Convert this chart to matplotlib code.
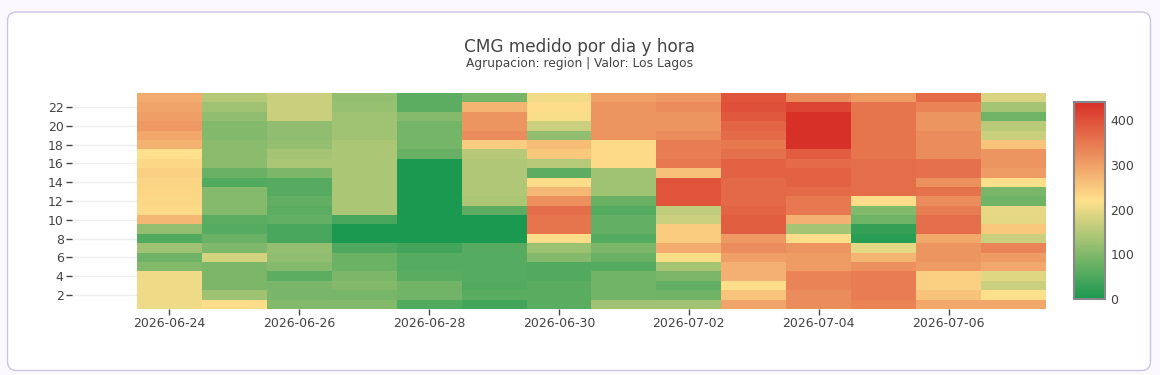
import matplotlib
matplotlib.use("Agg")
import matplotlib.pyplot as plt
import matplotlib.dates as mdates
from matplotlib.colors import LinearSegmentedColormap
from matplotlib.patches import FancyBboxPatch
import numpy as np
import pandas as pd

dates = ["2026-06-24", "2026-06-25", "2026-06-26", "2026-06-27", "2026-06-28",
         "2026-06-29", "2026-06-30", "2026-07-01", "2026-07-02", "2026-07-03",
         "2026-07-04", "2026-07-05", "2026-07-06", "2026-07-07"]
hours = list(range(1, 24))

# values per day, hour 1 .. 23
d0624 = [205,205,205,205,100,82,130,55,118,272,228,232,233,235,240,232,222,278,290,310,303,295,285]
d0625 = [225,130,95,95,95,180,98,78,58,65,105,105,105,55,78,110,110,110,100,100,115,130,150]
d0626 = [100,92,92,65,105,115,120,45,45,72,65,70,60,60,95,140,135,120,115,115,170,170,170]
d0627 = [100,90,100,95,80,80,50,3,3,45,140,140,140,140,140,140,140,140,130,130,130,122,120]
d0628 = [55,85,85,62,58,58,40,2,2,2,2,2,2,2,2,2,75,88,88,88,105,65,65]
d0629 = [40,62,55,57,57,57,60,2,2,2,65,140,145,145,145,145,150,245,325,315,315,275,90]
d0630 = [62,62,62,55,55,105,125,225,355,355,365,320,270,225,65,150,250,265,115,170,215,225,210]
d0701 = [130,85,85,85,58,75,95,58,72,72,58,75,130,130,130,228,228,228,315,315,315,315,300]
d0702 = [130,82,70,95,135,215,285,245,245,172,160,395,395,395,260,350,345,345,325,315,315,325,310]
d0703 = [295,255,225,280,280,300,325,310,383,383,375,370,370,370,378,378,360,350,368,375,390,400,395]
d0704 = [325,325,335,335,305,305,315,225,135,280,350,350,368,378,378,368,385,440,440,440,440,415,325]
d0705 = [335,345,345,345,320,275,195,15,25,82,100,225,362,362,362,362,355,355,355,355,355,355,305]
d0706 = [290,255,240,240,305,315,315,290,365,365,345,325,358,320,360,360,325,325,325,315,315,335,368]
d0707 = [292,220,172,192,290,305,335,172,250,195,198,82,92,218,305,315,315,255,170,155,82,135,185]

columns = [d0624, d0625, d0626, d0627, d0628, d0629, d0630,
           d0701, d0702, d0703, d0704, d0705, d0706, d0707]
Z = np.array(columns).T  # rows = hours, cols = dates

cbar_ticks = [0, 100, 200, 300, 400]
zmin, zmax = 0, 441

title = "CMG medido por dia y hora"
subtitle = "Agrupacion: region | Valor: Los Lagos"

cmap = LinearSegmentedColormap.from_list("cmg", ["#1a9850", "#fee08b", "#d73027"])
txt = "#444444"

W, H = 1160, 375
fig = plt.figure(figsize=(W / 100, H / 100), dpi=100)
fig.patch.set_facecolor("#fbf9fe")

border = FancyBboxPatch((7.5, H - 370.5), 1143, 358.5,
                        boxstyle="round,pad=0,rounding_size=9",
                        transform=None, facecolor="white",
                        edgecolor="#cdc4e4", linewidth=1.0, zorder=-10)
fig.patches.append(border)

ax = fig.add_axes([72 / W, 1 - 309 / H, (1046 - 72) / W, (309 - 93) / H])
ax.patch.set_alpha(0)

xc = mdates.date2num(pd.to_datetime(dates))
yc = np.array(hours)
mesh = ax.pcolormesh(xc, yc, Z, shading="nearest", cmap=cmap,
                     vmin=zmin, vmax=zmax, zorder=2)

ax.set_xlim(xc[0] - 1.5, xc[-1] + 0.5)
ax.set_ylim(yc[0] - 0.5, yc[-1] + 0.5)

ax.set_xticks(xc[::2])
ax.xaxis.set_major_formatter(mdates.DateFormatter("%Y-%m-%d"))
ax.set_yticks(list(range(2, 24, 2)))

for s in ax.spines.values():
    s.set_visible(False)
ax.grid(axis="y", color="#eeeeee", linewidth=1, zorder=0)
ax.set_axisbelow(True)
ax.tick_params(axis="both", colors=txt, labelcolor=txt, labelsize=9.0,
               length=4, width=1, pad=2)

cax = fig.add_axes([1074 / W, 1 - 299 / H, 31 / W, (299 - 102) / H])
cb = fig.colorbar(mesh, cax=cax, ticks=cbar_ticks)
cb.outline.set_edgecolor("#888888")
cb.outline.set_linewidth(1.5)
cax.tick_params(length=0, labelcolor=txt, labelsize=9.0, pad=4)

fig.text(0.5, 1 - 47 / H, title, ha="center", va="center", fontsize=12.2, color=txt)
fig.text(0.5, 1 - 63 / H, subtitle, ha="center", va="center", fontsize=8.8, color=txt)

fig.savefig("out.png", dpi=100, facecolor=fig.get_facecolor())
